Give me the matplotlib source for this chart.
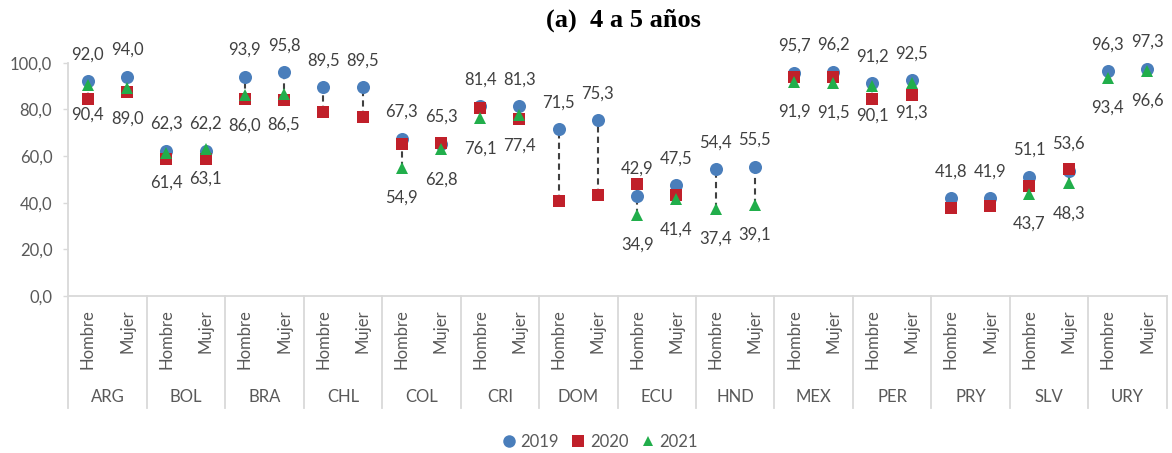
import numpy as np
import matplotlib
matplotlib.use("Agg")
import matplotlib.pyplot as plt
from matplotlib.lines import Line2D

plt.rcParams['font.family'] = ['Lato', 'DejaVu Sans']

countries = ["ARG", "BOL", "BRA", "CHL", "COL", "CRI", "DOM", "ECU", "HND", "MEX", "PER", "PRY", "SLV", "URY"]
genders = ["Hombre", "Mujer"]
nan = np.nan
v2019 = [92.0, 94.0, 62.3, 62.2, 93.9, 95.8, 89.5, 89.5, 67.3, 65.3, 81.4, 81.3, 71.5, 75.3,
         42.9, 47.5, 54.4, 55.5, 95.7, 96.2, 91.2, 92.5, 41.8, 41.9, 51.1, 53.6, 96.3, 97.3]
v2020 = [84.3, 87.3, 58.7, 58.7, 84.3, 83.9, 78.9, 76.7, 65.3, 65.4, 80.4, 75.7, 40.6, 43.1,
         48.0, 43.1, nan, nan, 93.7, 93.7, 84.3, 86.1, 37.6, 38.6, 47.1, 54.3, nan, nan]
v2021 = [90.4, 89.0, 61.4, 63.1, 86.0, 86.5, nan, nan, 54.9, 62.8, 76.1, 77.4, nan, nan,
         34.9, 41.4, 37.4, 39.1, 91.9, 91.5, 90.1, 91.3, nan, nan, 43.7, 48.3, 93.4, 96.6]
years = ["2019", "2020", "2021"]
title = "(a)  4 a 5 años"

W, H = 1172, 453
fig = plt.figure(figsize=(W / 100, H / 100), dpi=100)
x0, x1, ybot, ytop = 68.3, 1166.7, 296.0, 62.7
ax = fig.add_axes([x0 / W, (H - ybot) / H, (x1 - x0) / W, (ybot - ytop) / H])

n = len(countries) * len(genders)
x = np.arange(n)
a19 = np.array(v2019, dtype=float)
a20 = np.array(v2020, dtype=float)
a21 = np.array(v2021, dtype=float)

c19, c20, c21 = '#4A7EBB', '#C0202A', '#21AE4B'
gray_txt = '#404040'
axis_gray = '#D9D9D9'

# high-low dashed lines
stack = np.vstack([a19, a20, a21])
lo = np.nanmin(stack, axis=0)
hi = np.nanmax(stack, axis=0)
ax.vlines(x, lo, hi, colors='#404040', linestyles=(0, (3, 2)), lw=1.5, zorder=1)

ax.plot(x, a19, 'o', color=c19, ms=9.4, mew=0, zorder=2, label=years[0])
ax.plot(x, a20, 's', color=c20, ms=8.0, mew=0, zorder=3, label=years[1])
ax.plot(x, a21, '^', color=c21, ms=8.2, mew=0, zorder=4, label=years[2])

def fmt(v):
    return f"{v:.1f}".replace('.', ',')

for i in range(n):
    ax.annotate(fmt(a19[i]), (x[i], a19[i]), xytext=(0, 19.4), textcoords='offset points',
                ha='center', va='center', fontsize=12, color=gray_txt)
    if not np.isnan(a21[i]):
        ax.annotate(fmt(a21[i]), (x[i], a21[i]), xytext=(0, -21.6), textcoords='offset points',
                    ha='center', va='center', fontsize=12, color=gray_txt)

ax.set_xlim(-0.5, n - 0.5)
ax.set_ylim(0, 100)
ax.set_yticks(np.arange(0, 101, 20))
ax.set_yticklabels([fmt(v) for v in np.arange(0, 101, 20)])
ax.tick_params(axis='y', length=3.6, width=1, color=axis_gray, pad=7.9, labelsize=12, labelcolor='#595959')
ax.set_xticks([])
for s in ['top', 'right']:
    ax.spines[s].set_visible(False)
for s in ['left', 'bottom']:
    ax.spines[s].set_color(axis_gray)
    ax.spines[s].set_linewidth(1.3)

# multi-level category axis
trans = ax.get_xaxis_transform()
ppu = ybot - ytop
sep_bottom = -(408 - ybot) / ppu
for k in range(len(countries) + 1):
    ax.plot([k * 2 - 0.5, k * 2 - 0.5], [0, sep_bottom], transform=trans, color=axis_gray,
            lw=1.3, clip_on=False)
inner_y = -(309 - ybot) / ppu
outer_y = -(396.7 - ybot) / ppu
for i in range(n):
    ax.text(x[i], inner_y, genders[i % 2], rotation=90, ha='center', va='top', transform=trans,
            fontsize=12, color='#595959')
for k, c in enumerate(countries):
    ax.text(2 * k + 0.5, outer_y, c, ha='center', va='center', transform=trans,
            fontsize=12, color='#595959')

fig.text(623 / W, 1 - 20 / H, title, ha='center', va='center', fontsize=19, fontweight='bold',
         family='Liberation Serif')

handles = [Line2D([], [], ls='', marker='o', color=c19, ms=9.0, mew=0),
           Line2D([], [], ls='', marker='s', color=c20, ms=8.0, mew=0),
           Line2D([], [], ls='', marker='^', color=c21, ms=7.5, mew=0)]
fig.legend(handles, years, loc='center', bbox_to_anchor=(600 / W, 1 - 441.7 / H), ncol=3,
           frameon=False, fontsize=12, handlelength=0.8, handletextpad=0.3, columnspacing=0.75,
           labelcolor='#595959', borderpad=0)

fig.savefig('out.png', dpi=100)
